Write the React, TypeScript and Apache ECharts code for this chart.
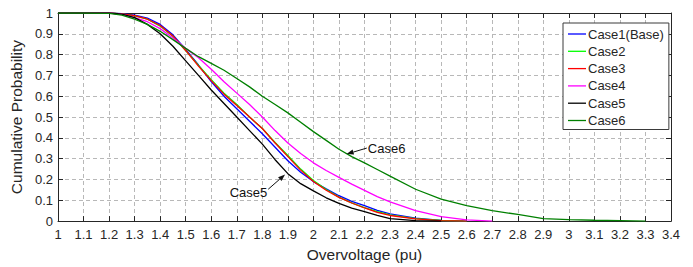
import React, { useEffect, useRef } from "react";
import * as echarts from "echarts";

const voltage = [1.0, 1.1, 1.2, 1.25, 1.3, 1.35, 1.4, 1.45, 1.5, 1.55, 1.6, 1.65, 1.7, 1.75, 1.8, 1.85, 1.9, 1.95, 2.0, 2.05, 2.1, 2.15, 2.2, 2.25, 2.3, 2.4, 2.5, 2.6, 2.7, 2.8, 2.9, 3.0, 3.1, 3.2, 3.3];

const case1 = [1, 1, 1, 0.997, 0.99, 0.975, 0.945, 0.895, 0.825, 0.75, 0.67, 0.6, 0.54, 0.48, 0.42, 0.355, 0.29, 0.235, 0.19, 0.155, 0.122, 0.095, 0.074, 0.052, 0.035, 0.014, 0.003, 0];
const case2 = [1, 1, 1, 0.996, 0.986, 0.97, 0.937, 0.888, 0.82, 0.748, 0.68, 0.615, 0.56, 0.5, 0.445, 0.378, 0.315, 0.25, 0.195, 0.152, 0.115, 0.088, 0.065, 0.045, 0.03, 0.012, 0.003, 0];
const case3 = [1, 1, 1, 0.996, 0.987, 0.97, 0.94, 0.89, 0.82, 0.745, 0.675, 0.61, 0.556, 0.5, 0.445, 0.375, 0.31, 0.245, 0.19, 0.148, 0.114, 0.087, 0.063, 0.042, 0.027, 0.011, 0.002, 0];
const case4 = [1, 1, 1, 0.994, 0.978, 0.958, 0.925, 0.88, 0.83, 0.785, 0.73, 0.67, 0.615, 0.56, 0.5, 0.435, 0.375, 0.325, 0.28, 0.243, 0.21, 0.178, 0.148, 0.118, 0.092, 0.05, 0.022, 0.006, 0];
const case5 = [1, 1, 1, 0.995, 0.978, 0.945, 0.9, 0.84, 0.77, 0.7, 0.63, 0.565, 0.5, 0.435, 0.37, 0.295, 0.228, 0.18, 0.145, 0.112, 0.085, 0.062, 0.045, 0.028, 0.012, 0.002, 0];
const case6 = [1, 1, 0.998, 0.99, 0.97, 0.945, 0.912, 0.872, 0.83, 0.79, 0.758, 0.725, 0.685, 0.645, 0.6, 0.56, 0.52, 0.475, 0.43, 0.388, 0.345, 0.31, 0.28, 0.248, 0.216, 0.153, 0.106, 0.074, 0.05, 0.032, 0.012, 0.007, 0.004, 0.002, 0];

const seriesNames = ["Case1(Base)", "Case2", "Case3", "Case4", "Case5", "Case6"];
const seriesValues = [case1, case2, case3, case4, case5, case6];
const seriesColors = ["#0000ff", "#00ff00", "#ff0000", "#ff00ff", "#000000", "#008000"];

// annotation anchors in data units: arrow start (text side) and arrow tip
const case6Note = { text: "Case6", start: [2.209, 0.351], tip: [2.13, 0.322], textDy: 0 };
const case5Note = { text: "Case5", start: [1.823, 0.153], tip: [1.889, 0.224], textDy: 3 };

const FONT = "Liberation Sans, Arial, Helvetica, sans-serif";
const INK = "#262626";

export default function App() {
  const ref = useRef<HTMLDivElement>(null);
  useEffect(() => {
    const chart = echarts.init(ref.current!, null, { renderer: "svg" });
    const baseAxis = {
      type: "value",
      axisLine: { show: true, onZero: false, lineStyle: { color: INK, width: 1 } },
      axisTick: { show: true, inside: true, length: 5, lineStyle: { color: INK } },
    };
    const option: any = {
      animation: false,
      textStyle: { fontFamily: FONT },
      grid: { left: 58, right: 22, top: 13, bottom: 43 },
      legend: {
        orient: "vertical",
        left: 563,
        top: 23,
        padding: [4, 5, 2, 5],
        itemWidth: 18,
        itemHeight: 14,
        itemGap: 3.3,
        icon: "path://M0,0H18V1.3H0Z",
        backgroundColor: "#ffffff",
        borderColor: "#3a3a3a",
        borderWidth: 1,
        borderRadius: 0,
        textStyle: { fontSize: 13, color: INK, fontFamily: FONT, lineHeight: 14, padding: [0, 0, 0, -3] },
        data: seriesNames,
      },
      xAxis: [
        {
          ...baseAxis,
          min: 1,
          max: 3.4,
          interval: 0.1,
          name: "Overvoltage (pu)",
          nameLocation: "middle",
          nameGap: 17,
          nameTextStyle: { fontSize: 15.5, color: INK, fontFamily: FONT },
          axisLabel: { fontSize: 13, color: INK, margin: 7, fontFamily: FONT },
          splitLine: { show: true, lineStyle: { color: "#b8b8b8", type: [4, 3], width: 1 } },
        },
        {
          ...baseAxis,
          position: "top",
          min: 1,
          max: 3.4,
          interval: 0.1,
          axisLabel: { show: false },
          splitLine: { show: false },
        },
      ],
      yAxis: [
        {
          ...baseAxis,
          min: 0,
          max: 1,
          interval: 0.1,
          name: "Cumulative Probability",
          nameLocation: "middle",
          nameGap: 27,
          nameTextStyle: { fontSize: 15.5, color: INK, fontFamily: FONT },
          axisLabel: { fontSize: 13, color: INK, margin: 5, fontFamily: FONT },
          splitLine: { show: true, lineStyle: { color: "#b8b8b8", type: [4, 3], width: 1 } },
        },
        {
          ...baseAxis,
          position: "right",
          min: 0,
          max: 1,
          interval: 0.1,
          axisLabel: { show: false },
          splitLine: { show: false },
        },
      ],
      series: seriesNames.map((name, k) => ({
        name,
        type: "line",
        xAxisIndex: 0,
        yAxisIndex: 0,
        symbol: "none",
        showSymbol: false,
        data: seriesValues[k].map((p, i) => [voltage[i], p]),
        lineStyle: { color: seriesColors[k], width: 1.3 },
        itemStyle: { color: seriesColors[k] },
      })),
    };
    chart.setOption(option);

    const toPx = (pt: number[]) => chart.convertToPixel({ gridIndex: 0 } as any, pt) as number[];
    const arrow = (note: any, textSide: "left" | "right") => {
      const s = toPx(note.start);
      const t = toPx(note.tip);
      const dx = t[0] - s[0];
      const dy = t[1] - s[1];
      const len = Math.sqrt(dx * dx + dy * dy);
      const ux = dx / len;
      const uy = dy / len;
      const hl = 7;
      const hw = 2.6;
      const bx = t[0] - ux * hl;
      const by = t[1] - uy * hl;
      return [
        {
          type: "line",
          shape: { x1: s[0], y1: s[1], x2: bx, y2: by },
          style: { stroke: "#111111", lineWidth: 1 },
          z: 100,
        },
        {
          type: "polygon",
          shape: {
            points: [
              [t[0], t[1]],
              [bx - uy * hw, by + ux * hw],
              [bx + uy * hw, by - ux * hw],
            ],
          },
          style: { fill: "#111111" },
          z: 100,
        },
        {
          type: "text",
          x: textSide === "right" ? s[0] + 1 : s[0] - 1,
          y: s[1] + note.textDy,
          style: {
            text: note.text,
            fontSize: 13,
            fontFamily: FONT,
            fill: "#111111",
            align: textSide === "right" ? "left" : "right",
            verticalAlign: "middle",
          },
          z: 100,
        },
      ];
    };
    chart.setOption({ graphic: [...arrow(case6Note, "right"), ...arrow(case5Note, "left")] });
    return () => chart.dispose();
  }, []);
  return <div ref={ref} style={{ position: "absolute", left: 0, top: 0, width: 693, height: 267 }} />;
}
